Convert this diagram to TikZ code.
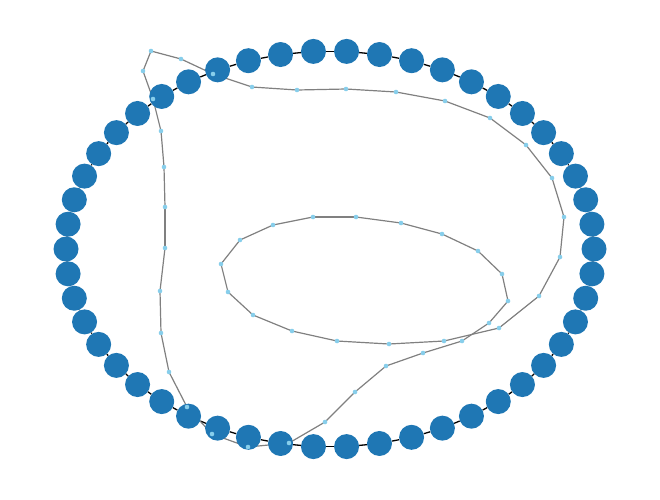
\documentclass[tikz,border=0pt]{standalone}
\usetikzlibrary{calc}
\pgfdeclarelayer{edges}
\pgfsetlayers{edges,main}
\definecolor{nxblue}{HTML}{1F77B4}
\definecolor{skyb}{HTML}{87CEEB}
\definecolor{edgegray}{HTML}{808080}
\tikzset{
  bignode/.style={circle, fill=nxblue, draw=none, minimum size=25pt, inner sep=0pt},
  dotnode/.style={circle, fill=skyb, draw=none, minimum size=4.6pt, inner sep=0pt},
  ringedge/.style={draw=black, line width=1.3pt},
  touredge/.style={draw=edgegray, line width=1.2pt}
}
\begin{document}
\begin{tikzpicture}[x=1pt, y=-1pt]
\path[use as bounding box] (0,0) rectangle (660,499);
% ring of big nodes
\foreach \k in {0,...,49} {
  \node[bignode] (b\k) at ({330+264*cos(7.2*\k)},{249-198*sin(7.2*\k)}) {};
}
% tour of small nodes
\foreach \x/\y [count=\i] in {444/341,389/344,337/341,292/331,253/315,228/292,221/264,240/240,273/225,313/217,
  356/217,401/223,442/234,478/251,502/274,508/301,489/323,462/341,423/353,386/366,
  355/392,325/422,289/443,248/447,212/434,187/407,169/372,161/333,160/291,165/248,
  165/207,164/167,161/131,153/99,143/71,151/51,181/59,213/74,252/87,297/90,
  346/89,396/92,445/101,490/118,526/145,552/178,564/217,560/257,539/296,499/328} {
  \node[dotnode] (t\i) at (\x,\y) {};
}
\begin{pgfonlayer}{edges}
\foreach \k [evaluate=\k as \j using {int(mod(\k+1,50))}] in {0,...,49} {
  \draw[ringedge] (b\k) -- (b\j);
}
\foreach \i [evaluate=\i as \j using {int(mod(\i,50)+1)}] in {1,...,50} {
  \draw[touredge] (t\i.center) -- (t\j.center);
}
\end{pgfonlayer}
\end{tikzpicture}
\end{document}
